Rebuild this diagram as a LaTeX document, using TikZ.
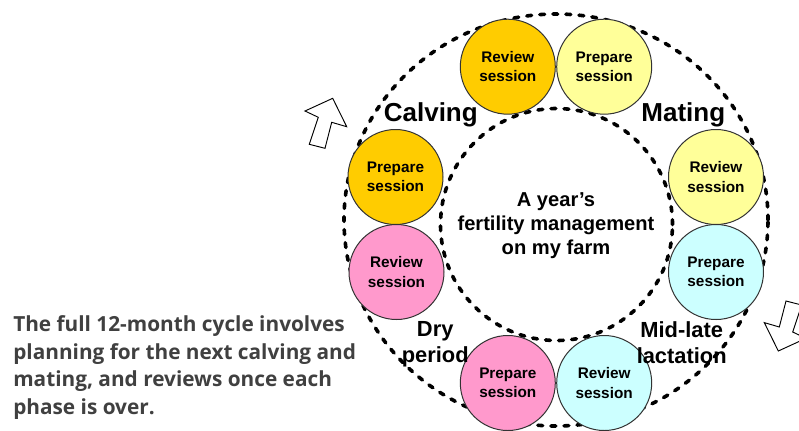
\documentclass[tikz,border=0pt]{standalone}
\usepackage{fontspec}
\setmainfont{Liberation Sans}
\newfontfamily\notefont{Open Sans}
\definecolor{cOrange}{RGB}{255,204,0}
\definecolor{cYellow}{RGB}{255,255,153}
\definecolor{cPink}{RGB}{255,153,204}
\definecolor{cCyan}{RGB}{204,255,255}
\definecolor{noteGray}{RGB}{64,64,64}
\begin{document}
\begin{tikzpicture}[x=0.75pt,y=-0.75pt,
  sess/.style={circle, draw=black!80, line width=0.75pt, minimum size=71.25pt,
    inner sep=0pt, align=center, font=\bfseries\fontsize{11.5}{14.5}\selectfont},
  ring/.style={line width=2.7pt, line cap=round, dash pattern=on 3.6pt off 6.2pt},
  season/.style={font=\bfseries\fontsize{19.5}{23}\selectfont, inner sep=0pt},
  phase/.style={font=\bfseries\fontsize{16.4}{19.5}\selectfont, align=center, inner sep=0pt},
  hub/.style={font=\bfseries\fontsize{15.1}{18.15}\selectfont, align=center, inner sep=0pt},
  note/.style={font=\notefont\bfseries\fontsize{15.6}{20.55}\selectfont, text=noteGray,
    align=left, inner sep=0pt},
  blockarrow/.style={draw=black, line width=0.7pt, fill=white, line join=miter}
]
\useasboundingbox (0,0) rectangle (799,430);

% dashed rings
\draw[ring] (556,220) ellipse [x radius=159pt, y radius=154.5pt];
\draw[ring] (556.5,224.5) circle [radius=87pt];

% session circles
\node[sess, fill=cOrange] (toprev)  at (507.8,66.7) {Review\\session};
\node[sess, fill=cYellow] (topprep) at (604.2,66.7) {Prepare\\session};
\node[sess, fill=cOrange] (lprep)   at (395.5,177)  {Prepare\\session};
\node[sess, fill=cPink]   (lrev)    at (396.5,272)  {Review\\session};
\node[sess, fill=cYellow] (rrev)    at (716,177)    {Review\\session};
\node[sess, fill=cCyan]   (rprep)   at (716,272)    {Prepare\\session};
\node[sess, fill=cPink]   (botprep) at (507.8,383)  {Prepare\\session};
\node[sess, fill=cCyan]   (botrev)  at (604.2,383)  {Review\\session};

% season labels
\node[season, anchor=base] (calving) at (430.8,121.7) {Calving};
\node[season, anchor=base] (mating)  at (683.3,121.7) {Mating};
\node[phase] (dry) at (435.2,344.7) {Dry\\period};
\node[phase] (midlate) at (681.7,342.3) {Mid-late\\lactation};

% centre text
\node[hub] (centre) at (556,225.6) {A year’s\\fertility management\\on my farm};

% note
\node[note, anchor=west] (note) at (13,367.5) {The full 12-month cycle involves\\planning for the next calving and\\mating, and reviews once each\\phase is over.};

% block arrows
\draw[blockarrow] (332.7,98.3) -- (305,111) -- (318.3,117.3) -- (309.3,144.3)
  -- (325,148.3) -- (331.7,122.3) -- (346.7,126.7) -- cycle;
\begin{scope}
\clip (0,0) rectangle (799,430);
\draw[blockarrow] (778.3,351) -- (806,338.3) -- (792.7,332) -- (801.7,305)
  -- (786,301) -- (779.3,327) -- (764.3,322.6) -- cycle;
\end{scope}
\end{tikzpicture}
\end{document}
